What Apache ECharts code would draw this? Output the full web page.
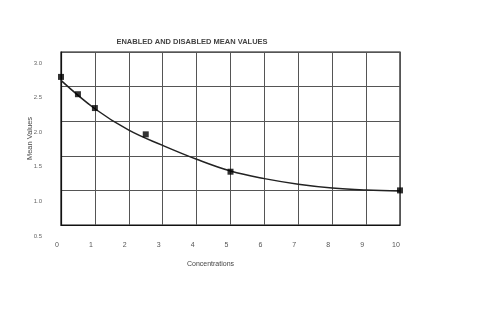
<!DOCTYPE html>
<html>
<head>
<meta charset="utf-8">
<script src="https://cdn.jsdelivr.net/npm/echarts@6/dist/echarts.min.js"></script>
<style>html,body{margin:0;padding:0;background:#fff}#c{width:483px;height:331px}</style>
</head>
<body>
<div id="c"></div>
<script>
const chartTitle = 'ENABLED AND DISABLED MEAN VALUES';
const xAxisTitle = 'Concentrations';
const yAxisTitle = 'Mean Values';
// measured standards
const concentrations = [0, 0.5, 1, 2.5, 5, 10];
const meanValues = [2.64, 2.39, 2.19, 1.81, 1.27, 1.00];
// fitted curve at each integer concentration
const fitX = [0, 1, 2, 3, 4, 5, 6, 7, 8, 9, 10];
const fitY = [2.59, 2.18, 1.87, 1.65, 1.45, 1.28, 1.17, 1.09, 1.035, 1.005, 0.99];

const chart = echarts.init(document.getElementById('c'), null, {renderer: 'canvas'});
const font = 'Liberation Sans';
chart.setOption({
  backgroundColor: '#fff',
  animation: false,
  title: {
    text: chartTitle, left: 187, top: 33, textAlign: 'center',
    textStyle: {fontFamily: font, fontSize: 7.5, fontWeight: 'bold', color: '#444'}
  },
  grid: {left: 61, right: 83, top: 52, bottom: 106, show: true, borderColor: '#111', borderWidth: 1.2},
  xAxis: {
    type: 'value', min: 0, max: 10, interval: 1,
    name: xAxisTitle, nameLocation: 'middle', nameGap: 36,
    nameTextStyle: {fontFamily: font, fontSize: 7, color: '#444', padding: [0, 40, 0, 0]},
    axisLine: {show: true, lineStyle: {color: '#111', width: 1.2}},
    axisTick: {show: false},
    axisLabel: {fontFamily: font, fontSize: 7, color: '#555', margin: 17, padding: [0, 8, 0, 0]},
    splitLine: {show: true, lineStyle: {color: '#555', width: 1}}
  },
  yAxis: {
    type: 'value', min: 0.5, max: 3.0, interval: 0.5,
    name: yAxisTitle, nameLocation: 'middle', nameGap: 27, nameRotate: 90, nameMoveOverlap: false,
    nameTextStyle: {fontFamily: font, fontSize: 7.5, color: '#444'},
    axisLine: {show: true, lineStyle: {color: '#111', width: 1.2}},
    axisTick: {show: false},
    axisLabel: {fontFamily: font, fontSize: 6, color: '#666', margin: 19, verticalAlign: 'top', padding: [8, 0, 0, 0],
      formatter: v => v.toFixed(1)},
    splitLine: {show: true, lineStyle: {color: '#555', width: 1}}
  },
  series: [
    {
      type: 'line', data: fitX.map((x, i) => [x, fitY[i]]), smooth: 0.4,
      showSymbol: false, lineStyle: {color: '#222', width: 1.5}, z: 3
    },
    {
      type: 'scatter', data: concentrations.map((x, i) => [x, meanValues[i]]),
      symbol: 'rect', symbolSize: 6, itemStyle: {color: '#000'}, z: 4
    }
  ]
});
</script>
</body>
</html>
